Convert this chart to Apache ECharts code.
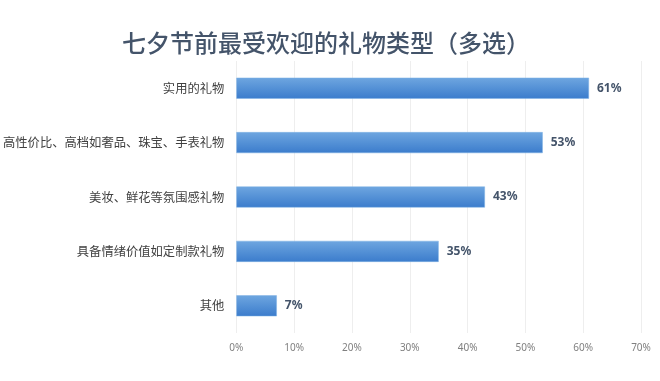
<!DOCTYPE html>
<html><head><meta charset="utf-8">
<script src="https://cdn.jsdelivr.net/npm/echarts@6/dist/echarts.min.js"></script>
<style>html,body{margin:0;padding:0;background:#fff}#c{width:660px;height:381px}</style>
</head><body><div id="c"></div>
<script>
const categories = ['实用的礼物','高性价比、高档如奢品、珠宝、手表礼物','美妆、鲜花等氛围感礼物','具备情绪价值如定制款礼物','其他'];
const values = [61, 53, 43, 35, 7];
const xTicks = [0, 10, 20, 30, 40, 50, 60, 70];
const chart = echarts.init(document.getElementById('c'));
chart.setOption({
  animation: false,
  title: {
    text: '七夕节前最受欢迎的礼物类型（多选）',
    left: 117, top: 26,
    textStyle: {fontFamily: 'Noto Sans CJK SC', fontSize: 24, fontWeight: 500, color: '#44546a'}
  },
  grid: {left: 236, right: 19, top: 61, bottom: 48},
  xAxis: {
    type: 'value', min: 0, max: 70, interval: 10,
    axisLine: {show: false}, axisTick: {show: false},
    splitLine: {lineStyle: {color: '#eeeeee'}},
    axisLabel: {formatter: v => v + '%', color: '#808080', fontSize: 10, margin: 10, fontFamily: 'Noto Sans'}
  },
  yAxis: {
    type: 'category', data: categories, inverse: true,
    axisLine: {show: false}, axisTick: {show: false},
    axisLabel: {color: '#404040', fontSize: 12.3, margin: 12, fontFamily: 'Noto Sans CJK SC'}
  },
  series: [{
    type: 'bar', data: values, barWidth: 21,
    itemStyle: {
      color: new echarts.graphic.LinearGradient(0, 0, 0, 1, [
        {offset: 0, color: '#6ea6e0'}, {offset: 1, color: '#3b7ccc'}
      ]),
      borderColor: '#7fb2e5', borderWidth: 0.5
    },
    label: {show: true, position: 'right', distance: 8, formatter: p => p.value + '%',
      color: '#44546a', fontSize: 12, fontWeight: 'bold', fontFamily: 'Noto Sans'}
  }]
});
</script></body></html>
